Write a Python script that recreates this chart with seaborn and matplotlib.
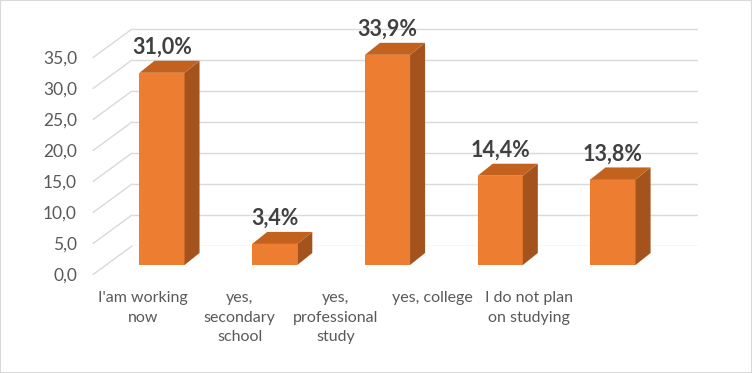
import matplotlib
matplotlib.use("Agg")
import matplotlib.pyplot as plt
import seaborn as sns
from matplotlib.patches import Polygon, Rectangle, ConnectionPatch
from matplotlib.ticker import FuncFormatter

# data
categories = ["I'am working\nnow", "yes,\nsecondary\nschool", "yes,\nprofessional\nstudy",
              "yes, college", "I do not plan\non studying"]
values = [31.0, 3.4, 33.9, 14.4, 13.8]
y_ticks = [0, 5, 10, 15, 20, 25, 30, 35]

front_col = "#ED7D31"
top_col = "#C3621F"
side_col = "#A5531C"
grid_col = "#D9D9D9"

sns.set_style("white")
plt.rcParams["font.family"] = ["Lato", "DejaVu Sans"]

fig = plt.figure(figsize=(7.52, 3.73), dpi=100)
W, H = 752, 373
ylim = (0, 40)
px_per_unit = 6.2

def place(left_px, bottom_px, width_px):
    # bottom_px = pixel row (from top) of the zero level
    return [left_px / W, (H - bottom_px) / H, width_px / W, ylim[1] * px_per_unit / H]

# back wall with grid lines
ax_wall = fig.add_axes(place(132, 246, 566))
ax_wall.set_xlim(0, 1)
ax_wall.set_ylim(*ylim)
ax_wall.hlines(y_ticks, 0, 1, color=grid_col, lw=1.0)
ax_wall.axis("off")

# bars (front faces) with seaborn
ax_bar = fig.add_axes(place(105.6, 265, 563.8))
ax_bar.patch.set_alpha(0)
sns.barplot(x=list(range(len(values))), y=values, ax=ax_bar, color=front_col,
            saturation=1, width=0.4, native_scale=True, linewidth=0)
ax_bar.set_xlim(-0.5, 4.5)
ax_bar.set_ylim(*ylim)
ax_bar.axis("off")

# depth of the bars in data units
dx = 15 / 112.7
dy = 12 / px_per_unit
for bar, v in zip(list(ax_bar.patches), values):
    bar.set_edgecolor("none")
    xl = bar.get_x()
    xr = xl + bar.get_width()
    side = Polygon([(xr, 0), (xr, v), (xr + dx, v + dy), (xr + dx, dy)],
                   closed=True, fc=side_col, ec="none")
    top = Polygon([(xl, v), (xr, v), (xr + dx, v + dy), (xl + dx, v + dy)],
                  closed=True, fc=top_col, ec="none")
    ax_bar.add_patch(side)
    ax_bar.add_patch(top)
    ax_bar.annotate(f"{v:.1f}%".replace(".", ","), (xl + bar.get_width() / 2, v + dy),
                    xytext=(0, 2), textcoords="offset points", ha="center", va="bottom",
                    fontsize=15.5, fontweight="bold", color="#404040")

# front axis plane: tick labels
ax_front = fig.add_axes(place(95, 274.5, 482))
ax_front.patch.set_alpha(0)
ax_front.set_xlim(-0.5, 4.5)
ax_front.set_ylim(*ylim)
ax_front.set_xticks(range(len(categories)))
ax_front.set_xticklabels(categories, linespacing=1.5)
ax_front.set_yticks(y_ticks)
ax_front.yaxis.set_major_formatter(FuncFormatter(lambda v, p: f"{v:.1f}".replace(".", ",")))
ax_front.tick_params(axis="both", length=0, labelcolor="#595959")
ax_front.tick_params(axis="x", pad=12, labelsize=11.5)
ax_front.tick_params(axis="y", pad=13, labelsize=12.5)
for s in ax_front.spines.values():
    s.set_visible(False)

# diagonal lines linking front axis to back wall
for t in y_ticks:
    con = ConnectionPatch(xyA=(-0.52, t), coordsA=ax_front.transData,
                          xyB=(0, t), coordsB=ax_wall.transData,
                          color=grid_col, lw=1.0)
    fig.add_artist(con)

# outer border
fig.add_artist(Rectangle((0, 0), 1, 1, transform=fig.transFigure, fill=False,
                         ec="#D9D9D9", lw=1.5))

fig.savefig("out.png", dpi=100)
